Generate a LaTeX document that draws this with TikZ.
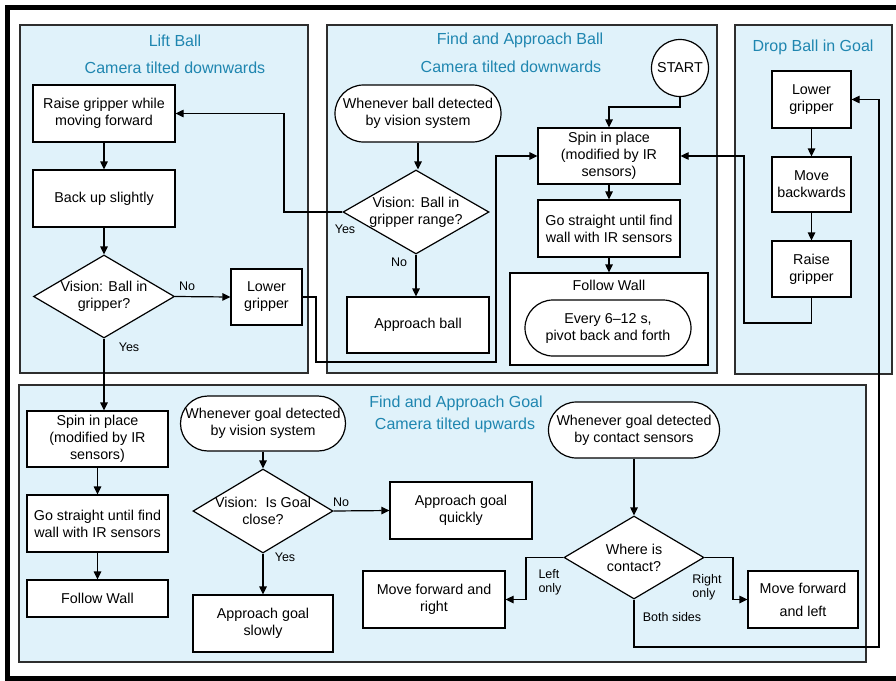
\documentclass[tikz,border=0pt]{standalone}
\usepackage{fontspec}
\setmainfont{Liberation Sans}
\usetikzlibrary{shapes.geometric,shapes.misc,arrows.meta}
\definecolor{panelfill}{HTML}{E0F2FA}
\definecolor{titleblue}{HTML}{1F86B0}
\definecolor{panelline}{HTML}{2E2E2E}
\tikzset{
  panel/.style={draw=panelline,fill=panelfill,line width=1.2pt},
  ttl/.style={text=titleblue,font=\fontsize{16}{19}\selectfont,inner sep=0pt},
  stepbox/.style={draw=black,fill=white,line width=1.2pt,rectangle,align=center,inner sep=2pt,font=\fontsize{14.3}{17}\selectfont},
  term/.style={draw=black,fill=white,line width=1.2pt,rounded rectangle,align=center,inner sep=2pt,font=\fontsize{14.3}{17}\selectfont},
  decide/.style={draw=black,fill=white,line width=1.2pt,diamond,inner sep=0pt},
  dtext/.style={align=center,font=\fontsize{14.3}{17}\selectfont},
  lbl/.style={align=left,inner sep=0pt,font=\fontsize{12.5}{14}\selectfont},
  arr/.style={line width=1.2pt,-{Triangle[length=8pt,width=7.5pt]}},
}
\begin{document}
\begin{tikzpicture}[x=1pt,y=-1pt]
\useasboundingbox (0,0) rectangle (896,680);
\fill[white] (0,0) rectangle (896,680);
% outer frame
\draw[line width=5pt] (896,7.5) -- (7.5,7.5) -- (7.5,678) -- (896,678);

% panels
\draw[panel] (20,25) rectangle (308,373);
\draw[panel] (327,25) rectangle (717,373);
\draw[panel] (735,25) rectangle (892,374);
\draw[panel] (19,385) rectangle (866,662);

% ---- Lift Ball ----
\node[ttl] (t1) at (175,41) {Lift Ball};
\node[ttl] (t1b) at (175,68) {Camera tilted downwards};
\node[stepbox,minimum width=142pt,minimum height=57pt] (raise) at (104,113.5) {Raise gripper while\\moving forward};
\node[stepbox,minimum width=142pt,minimum height=57pt] (back) at (104,198.5) {Back up slightly};
\node[decide,minimum width=141pt,minimum height=83pt,label={[dtext]center:Vision: Ball in\\gripper?}] (d1) at (104,296.5) {};
\node[stepbox,minimum width=71pt,minimum height=56pt] (lowg) at (266.5,297) {Lower\\gripper};

% ---- Find and Approach Ball ----
\node[ttl] (t2) at (520,40) {Find and Approach Ball};
\node[ttl] (t2b) at (511,67) {Camera tilted downwards};
\node[draw=black,fill=white,line width=1.2pt,circle,minimum size=57pt,inner sep=0pt,font=\fontsize{14.3}{17}\selectfont] (start) at (680,68) {START};
\node[term,minimum width=170pt,minimum height=57pt] (wb) at (418,113.5) {Whenever ball detected\\by vision system};
\node[decide,minimum width=146pt,minimum height=84pt,label={[dtext]center:Vision: Ball in\\gripper range?}] (d2) at (416,212) {};
\node[stepbox,minimum width=142pt,minimum height=56pt] (appb) at (418,325) {Approach ball};
\node[stepbox,minimum width=142pt,minimum height=56pt] (spin1) at (609,156) {Spin in place\\(modified by IR\\sensors)};
\node[stepbox,minimum width=142pt,minimum height=57pt] (go1) at (609,228.5) {Go straight until find\\wall with IR sensors};
\node[stepbox,minimum width=198pt,minimum height=92pt,label={[dtext,anchor=north,yshift=-4pt]north:Follow Wall}] (fw) at (609,319) {};
\node[term,minimum width=170pt,minimum height=56pt] (every) at (608,328) {Every 6–12 s,\\pivot back and forth};

% ---- Drop Ball in Goal ----
\node[ttl] (t3) at (813,47) {Drop Ball in Goal};
\node[stepbox,minimum width=79pt,minimum height=57pt] (lg) at (811.5,99.5) {Lower\\gripper};
\node[stepbox,minimum width=79pt,minimum height=55pt] (mb) at (811.5,184.5) {Move\\backwards};
\node[stepbox,minimum width=79pt,minimum height=56pt] (rg) at (811.5,269) {Raise\\gripper};

% ---- Find and Approach Goal ----
\node[ttl] (t4) at (456,403) {Find and Approach Goal};
\node[ttl] (t4b) at (455,425) {Camera tilted upwards};
\node[stepbox,minimum width=141pt,minimum height=56pt] (spin2) at (97.5,439) {Spin in place\\(modified by IR\\sensors)};
\node[stepbox,minimum width=141pt,minimum height=57pt] (go2) at (97.5,523.5) {Go straight until find\\wall with IR sensors};
\node[stepbox,minimum width=141pt,minimum height=37pt] (fw2) at (97.5,598.5) {Follow Wall};
\node[term,minimum width=169pt,minimum height=55pt] (wg) at (263,423.5) {Whenever goal detected\\by vision system};
\node[decide,minimum width=140pt,minimum height=84pt,label={[dtext]center:Vision:\ \ Is Goal\\close?}] (d3) at (263,511) {};
\node[stepbox,minimum width=142pt,minimum height=57pt] (aq) at (461,510.5) {Approach goal\\quickly};
\node[stepbox,minimum width=140pt,minimum height=57pt] (as) at (263,623.5) {Approach goal\\slowly};
\node[term,minimum width=175pt,minimum height=56pt] (wc) at (634,430) {Whenever goal detected\\by contact sensors};
\node[decide,minimum width=140pt,minimum height=83pt,label={[dtext]center:Where is\\contact?}] (d4) at (634,557.5) {};
\node[stepbox,minimum width=142pt,minimum height=57pt] (mfr) at (434,599.5) {Move forward and\\right};
\node[stepbox,minimum width=110pt,minimum height=57pt,font=\fontsize{14.3}{23}\selectfont] (mfl) at (803,599.5) {Move forward\\and left};

% ---- connectors ----
\draw[arr] (raise.south) -- (back.north);
\draw[arr] (back.south) -- (d1.north);
\draw[arr] (d1.east) -- (lowg.west);
\node[lbl] (lno1) at (187,286) {No};
\draw[arr] (d1.south) -- (d1.south |- spin2.north);
\node[lbl] (lyes1) at (129,347) {Yes};

\coordinate (c1) at (316,362);
\coordinate (c2) at (496,362);
\draw[arr] (lowg.east) -| (c1) -- (c2) |- (spin1.west);

\draw[arr] (wb.south) -- (wb.south |- d2.north);
\coordinate (c3) at (284,212);
\draw[arr] (d2.west) -- (c3) |- (raise.east);
\node[lbl] (lyes2) at (345,229) {Yes};
\draw[arr] (d2.south) -- (d2.south |- appb.north);
\node[lbl] (lno2) at (399,262) {No};

\coordinate (c4) at (680,107);
\draw[arr] (start.south) -- (c4) -| (spin1.north);
\draw[arr] (spin1.south) -- (go1.north);
\draw[arr] (go1.south) -- (fw.north);

\draw[arr] (lg.south) -- (mb.north);
\draw[arr] (mb.south) -- (rg.north);
\coordinate (c5) at (744,323);
\draw[arr] (rg.south) |- (c5) |- (spin1.east);

\draw[arr] (spin2.south) -- (go2.north);
\draw[arr] (go2.south) -- (fw2.north);
\draw[arr] (wg.south) -- (d3.north);
\draw[arr] (d3.east) -- (aq.west);
\node[lbl] (lno3) at (341,502) {No};
\draw[arr] (d3.south) -- (as.north);
\node[lbl] (lyes3) at (285,557) {Yes};

\draw[arr] (wc.south) -- (d4.north);
\coordinate (c7) at (526,557.5);
\draw[arr] (d4.west) -- (c7) |- (mfr.east);
\node[lbl] (lleft) at (550,582) {Left\\only};
\coordinate (c8) at (733,557.5);
\draw[arr] (d4.east) -- (c8) |- (mfl.west);
\node[lbl] (lright) at (707,587) {Right\\only};
\coordinate (c6) at (879,647);
\draw[arr] (d4.south) |- (c6) |- (lg.east);
\node[lbl] (lboth) at (672,617) {Both sides};
\end{tikzpicture}
\end{document}
